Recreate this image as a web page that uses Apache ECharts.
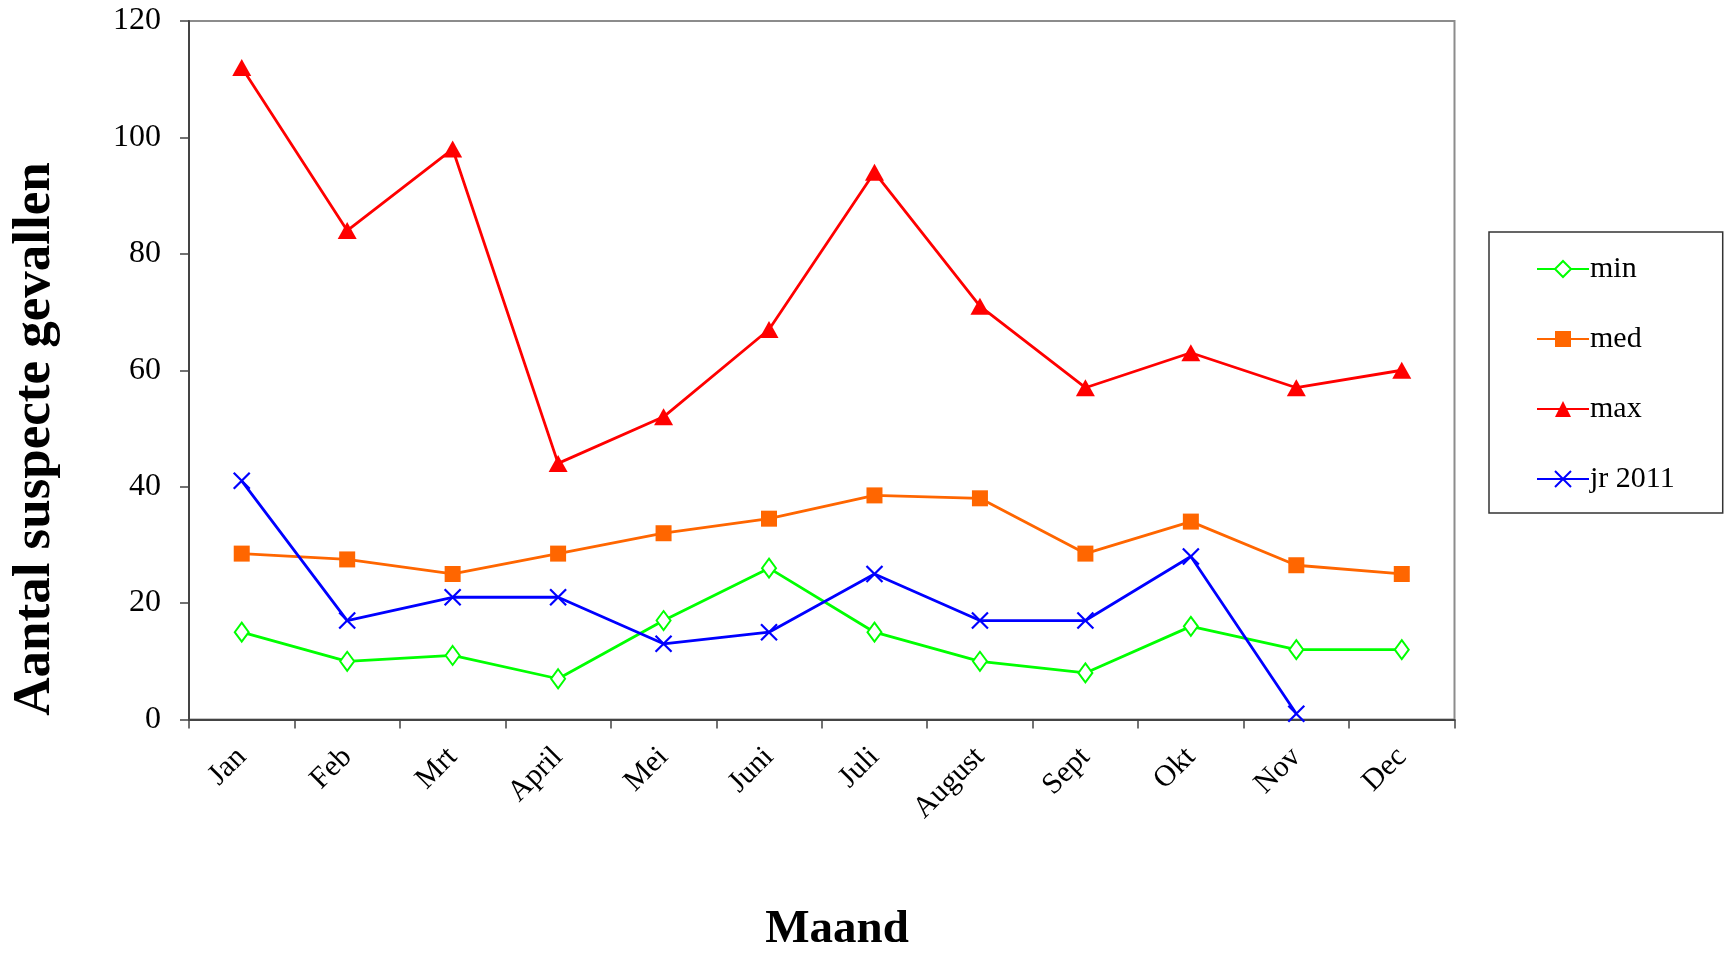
<!DOCTYPE html>
<html><head><meta charset="utf-8">
<script src="https://cdn.jsdelivr.net/npm/echarts@6/dist/echarts.min.js"></script>
<style>html,body{margin:0;padding:0;background:#fff}#c{width:1733px;height:953px}</style>
</head><body><div id="c"></div>
<script>
const months = ['Jan','Feb','Mrt','April','Mei','Juni','Juli','August','Sept','Okt','Nov','Dec'];
const minVals = [15,10,11,7,17,26,15,10,8,16,12,12];
const medVals = [28.5,27.5,25,28.5,32,34.5,38.5,38,28.5,34,26.5,25];
const maxVals = [112,84,98,44,52,67,94,71,57,63,57,60];
const jr2011Vals = [41,17,21,21,13,15,25,17,17,28,1,null];
const yTicks = {min:0, max:120, interval:20};

const FONT = '"Liberation Serif","Times New Roman",serif';
const chart = echarts.init(document.getElementById('c'));
const xPath = 'path://M0,0L10,10M10,0L0,10';
chart.setOption({
  animation:false,
  backgroundColor:'#fff',
  grid:{left:189,right:278.5,top:21,bottom:233.5,show:true,borderColor:'#8c8c8c',borderWidth:2,backgroundColor:'transparent'},
  xAxis:{type:'category',data:months,boundaryGap:true,
    axisLine:{lineStyle:{color:'#444',width:2}},
    axisTick:{show:true,length:9,lineStyle:{color:'#444',width:1.5},alignWithLabel:false},
    axisLabel:{rotate:45,margin:33,fontFamily:FONT,fontSize:30,color:'#000'},
    splitLine:{show:false}},
  yAxis:{type:'value',min:yTicks.min,max:yTicks.max,interval:yTicks.interval,
    axisLine:{show:true,lineStyle:{color:'#444',width:2}},
    axisTick:{show:true,length:9,lineStyle:{color:'#444',width:1.5}},
    axisLabel:{margin:28,fontFamily:FONT,fontSize:32,color:'#000'},
    splitLine:{show:false}},
  legend:{orient:'vertical',left:1489,top:232,
    padding:[22,48,19,47],itemGap:40,itemWidth:52,itemHeight:20,
    backgroundColor:'#fff',borderColor:'#333',borderWidth:1.5,borderRadius:0,
    textStyle:{fontFamily:FONT,fontSize:30,color:'#000',lineHeight:30,padding:[0,0,0,-4]},
    data:['min','med','max','jr 2011']},
  graphic:[
    {type:'text',x:35,y:439,rotation:Math.PI/2,style:{text:'Aantal suspecte gevallen',font:'bold 53px '+FONT,fill:'#000',align:'center',verticalAlign:'middle'}},
    {type:'text',x:837,y:930,style:{text:'Maand',font:'bold 47px '+FONT,fill:'#000',align:'center',verticalAlign:'middle'}}
  ],
  series:[
    {name:'min',type:'line',data:minVals,color:'#00ff00',symbol:'emptyDiamond',symbolSize:[14,19],
      lineStyle:{width:2.8,color:'#00ff00'},itemStyle:{color:'#00ff00',borderWidth:2}},
    {name:'med',type:'line',data:medVals,color:'#ff6600',symbol:'rect',symbolSize:16,
      lineStyle:{width:2.8,color:'#ff6600'},itemStyle:{color:'#ff6600'}},
    {name:'max',type:'line',data:maxVals,color:'#ff0000',symbol:'triangle',symbolSize:[19,17],
      lineStyle:{width:2.8,color:'#ff0000'},itemStyle:{color:'#ff0000'}},
    {name:'jr 2011',type:'line',data:jr2011Vals,color:'#0000ff',symbol:xPath,symbolSize:16,
      lineStyle:{width:2.8,color:'#0000ff'},itemStyle:{color:'#0000ff',borderColor:'#0000ff',borderWidth:2.2}}
  ]
});
</script></body></html>
